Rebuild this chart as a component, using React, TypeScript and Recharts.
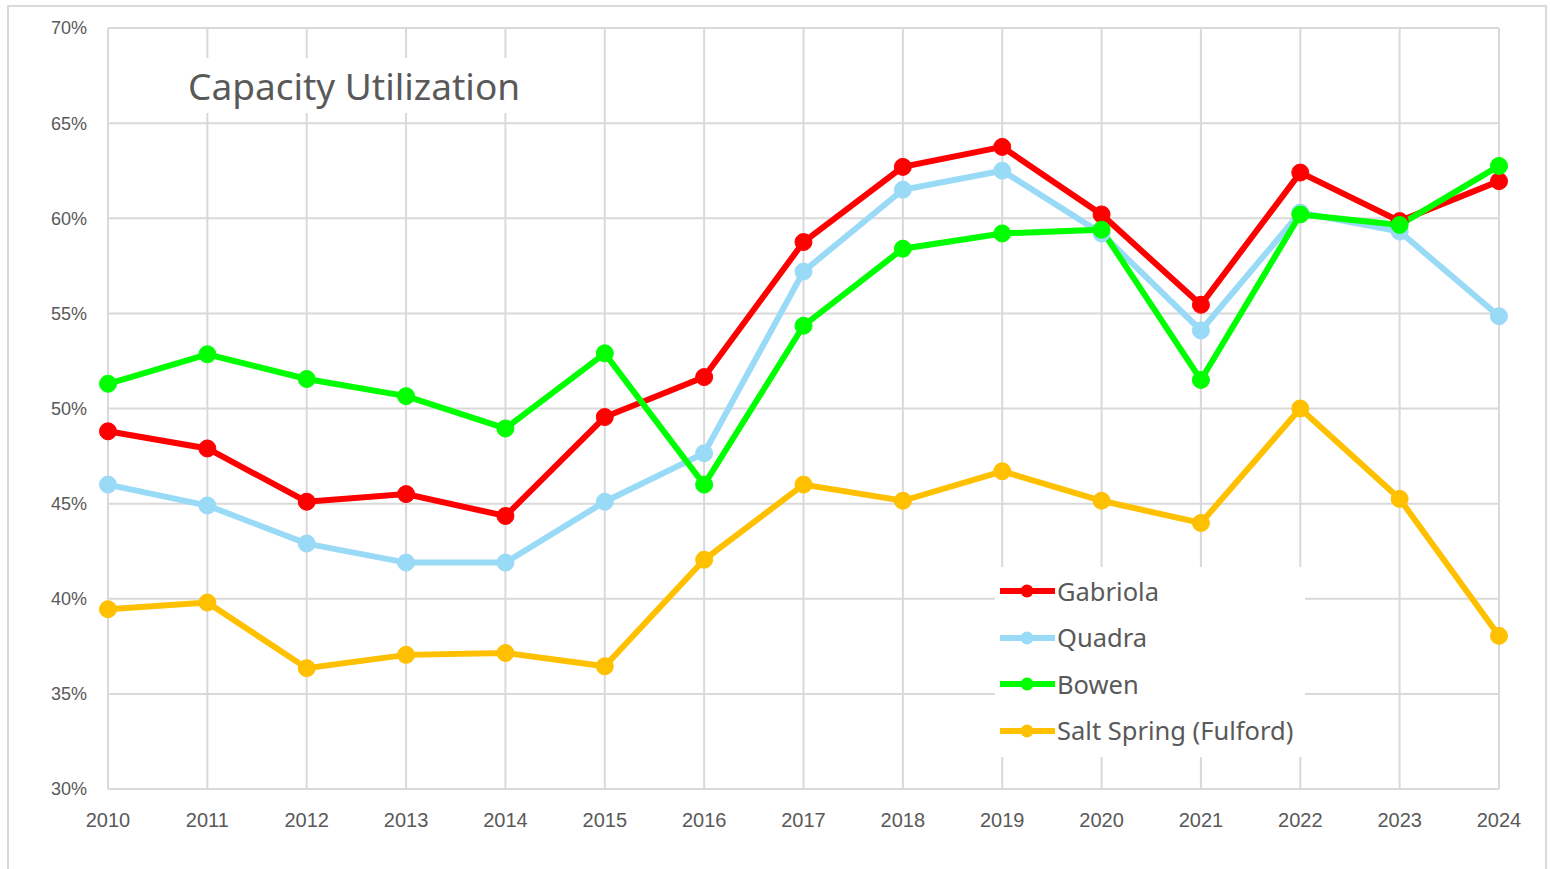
import { CartesianGrid, Line, LineChart, XAxis, YAxis } from "recharts";

const years = ["2010", "2011", "2012", "2013", "2014", "2015", "2016", "2017", "2018", "2019", "2020", "2021", "2022", "2023", "2024"];
const gabriola = [48.8, 47.9, 45.1, 45.5, 44.35, 49.55, 51.65, 58.75, 62.7, 63.75, 60.2, 55.45, 62.4, 59.85, 61.95];
const quadra = [46.0, 44.9, 42.9, 41.9, 41.9, 45.1, 47.65, 57.2, 61.5, 62.5, 59.2, 54.1, 60.3, 59.3, 54.85];
const bowen = [51.3, 52.85, 51.55, 50.65, 48.95, 52.9, 46.0, 54.35, 58.4, 59.2, 59.4, 51.5, 60.2, 59.65, 62.75];
const saltSpring = [39.45, 39.8, 36.35, 37.05, 37.15, 36.45, 42.05, 46.0, 45.15, 46.7, 45.15, 43.98, 50.0, 45.25, 38.05];
const yTicks = [30, 35, 40, 45, 50, 55, 60, 65, 70];

const series = [
    { key: "Gabriola", values: gabriola, color: "#FF0000" },
    { key: "Quadra", values: quadra, color: "#99DAF7" },
    { key: "Bowen", values: bowen, color: "#00FF00" },
    { key: "Salt Spring (Fulford)", values: saltSpring, color: "#FFC000" },
];

const chartData = years.map((year, i) => {
    const row: Record<string, string | number> = { year };
    series.forEach((s) => { row[s.key] = s.values[i]; });
    return row;
});

const fontTick = "'Liberation Sans', Arial, sans-serif";
const fontLabel = "'Noto Sans', Lato, sans-serif";

// legend sits on a white box over the grid, like the title
function LegendBox() {
    return (
        <div style={{ position: "absolute", left: 986, top: 560, width: 310, height: 190, background: "#fff", paddingTop: 1, boxSizing: "border-box" }}>
            {series.map((s) => (
                <div key={s.key} style={{ height: 46.5, display: "flex", alignItems: "center", paddingLeft: 5 }}>
                    <svg width={55} height={14} style={{ flexShrink: 0 }}>
                        <line x1={1} x2={54} y1={7} y2={7} stroke={s.color} strokeWidth={6} strokeLinecap="round" />
                        <circle cx={27} cy={7} r={6.5} fill={s.color} />
                    </svg>
                    <span style={{ fontFamily: fontLabel, fontSize: 25.5, color: "#595959", marginLeft: 2, lineHeight: 1, whiteSpace: "nowrap" }}>{s.key}</span>
                </div>
            ))}
        </div>
    );
}

export default function App() {
    return (
        <div style={{ position: "absolute", left: 7, top: 5, width: 1540, height: 880, border: "2px solid #d9d9d9", boxSizing: "border-box", background: "#fff" }}>
            <LineChart width={1536} height={860} data={chartData} margin={{ top: 21, right: 46, bottom: 38, left: 0 }}>
                <CartesianGrid stroke="#d9d9d9" strokeWidth={2} />
                <XAxis dataKey="year" stroke="#d9d9d9" strokeWidth={2} tickLine={false} height={40} tickSize={0} tickMargin={24}
                    tick={{ fill: "#595959", fontSize: 20, fontFamily: fontTick }} interval={0} />
                <YAxis domain={[30, 70]} ticks={yTicks} width={99} stroke="#d9d9d9" strokeWidth={2} tickLine={false} tickSize={0} tickMargin={21}
                    tickFormatter={(v) => `${v}%`} tick={{ fill: "#595959", fontSize: 18, fontFamily: fontTick }} />
                {series.map((s) => (
                    <Line key={s.key} dataKey={s.key} stroke={s.color} strokeWidth={6} isAnimationActive={false}
                        dot={{ r: 8.5, fill: s.color, stroke: s.color, strokeWidth: 1 }} />
                ))}
            </LineChart>
            <div style={{ position: "absolute", left: 171, top: 51, width: 345, height: 55, background: "#fff", display: "flex", alignItems: "center", paddingLeft: 8, boxSizing: "border-box" }}>
                <span style={{ fontFamily: fontLabel, fontSize: 37, color: "#595959", lineHeight: 1, whiteSpace: "nowrap" }}>Capacity Utilization</span>
            </div>
            <LegendBox />
        </div>
    );
}
